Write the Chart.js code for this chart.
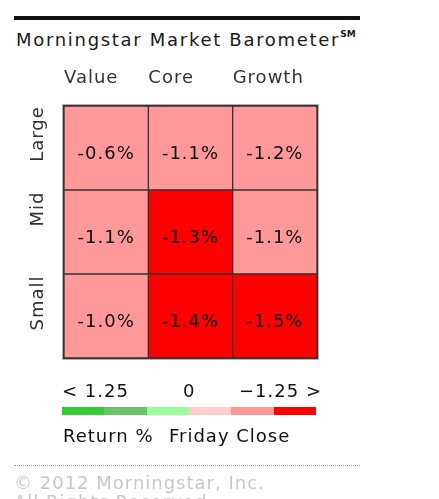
<!DOCTYPE html>
<html>
<head>
<meta charset="utf-8">
<script src="https://cdn.jsdelivr.net/npm/chart.js@4.4.1/dist/chart.umd.min.js"></script>
<style>
  body { margin: 0; background: #fff; width: 439px; height: 499px; overflow: hidden; position: relative;
         font-family: "DejaVu Sans", Verdana, sans-serif; }
  .txt { position: absolute; white-space: nowrap; font-size: 18px; line-height: 20px; letter-spacing: 1px; }
  #topRule { position: absolute; left: 14px; top: 16px; width: 346px; height: 4px; background: #111; }
  #title { left: 16px; top: 24px; color: #1a1a1a; letter-spacing: 1.7px; }
  #title sup { font-size: 9px; font-weight: bold; letter-spacing: 0; vertical-align: 9px; }
  #scaleBar { position: absolute; left: 62px; top: 407px; width: 254px; height: 8px; display: flex; }
  #scaleBar div { flex: 1; }
  #dots { position: absolute; left: 14px; top: 465px; width: 346px; border-top: 1px dotted #aaa; }
  #chart { position: absolute; left: 0; top: 0; }
</style>
</head>
<body>
<div id="topRule"></div>
<div id="title" class="txt">Morningstar Market Barometer<sup>SM</sup></div>
<canvas id="chart" width="439" height="499"></canvas>
<div id="legendTicks"></div>
<div id="scaleBar"></div>
<div class="txt" style="left:63px;top:426px;color:#111;">Return %</div>
<div class="txt" style="left:169px;top:426px;color:#111;">Friday Close</div>
<div id="dots"></div>
<div class="txt" style="left:14px;top:473px;color:#c8c8c8;">© 2012 Morningstar, Inc.</div>
<div class="txt" style="left:14px;top:492px;color:#c8c8c8;">All Rights Reserved.</div>
<script>
// style columns and size rows
const styles = ["Value", "Core", "Growth"];
const sizes = ["Large", "Mid", "Small"];

// Friday close returns (%)
const returnsLarge = [-0.6, -1.1, -1.2];
const returnsMid = [-1.1, -1.3, -1.1];
const returnsSmall = [-1.0, -1.4, -1.5];

// colour scale legend
const legendTicks = ["< 1.25", "0", "\u22121.25 >"];
const legendTickX = [62, 183, 239];
const legendColors = ["#33cc33", "#6cc46c", "#99ff99", "#ffcccc", "#ff9999", "#ff0000"];
const legendBreaks = [1.25, 0.5, 0, -0.5, -1.25];

function colorFor(v) {
  for (let i = 0; i < legendBreaks.length; i++) {
    if (v >= legendBreaks[i]) return legendColors[i];
  }
  return legendColors[legendColors.length - 1];
}

// legend bits
const bar = document.getElementById("scaleBar");
legendColors.forEach((c) => {
  const d = document.createElement("div");
  d.style.background = c;
  bar.appendChild(d);
});
const tickBox = document.getElementById("legendTicks");
legendTicks.forEach((t, i) => {
  const d = document.createElement("div");
  d.className = "txt";
  d.style.left = legendTickX[i] + "px";
  d.style.top = "381px";
  d.style.color = "#111";
  d.textContent = t;
  tickBox.appendChild(d);
});

// stacked from the bottom: Small, Mid, Large
const rows = [
  { name: "Small", values: returnsSmall },
  { name: "Mid", values: returnsMid },
  { name: "Large", values: returnsLarge },
];

const FONT = '18px "DejaVu Sans", Verdana, sans-serif';

const gridLabels = {
  id: "gridLabels",
  afterDatasetsDraw(chart) {
    const ctx = chart.ctx;
    const area = chart.chartArea;
    const xs = chart.scales.x;
    const ys = chart.scales.y;
    ctx.save();
    ctx.font = FONT;
    ctx.letterSpacing = "1px";

    // cell values (sit a little below the middle)
    ctx.fillStyle = "#0a0a0a";
    ctx.textAlign = "center";
    ctx.textBaseline = "middle";
    chart.data.datasets.forEach((ds, di) => {
      const meta = chart.getDatasetMeta(di);
      meta.data.forEach((el, i) => {
        const v = ds.returns[i];
        ctx.fillText(v.toFixed(1) + "%", el.x, (el.y + el.base) / 2 + 6);
      });
    });

    // column headers, left aligned to each column
    const colW = xs.getPixelForValue(1) - xs.getPixelForValue(0);
    ctx.fillStyle = "#333";
    ctx.textAlign = "left";
    styles.forEach((s, i) => {
      ctx.fillText(s, xs.getPixelForValue(i) - colW / 2, 78);
    });

    // row labels, rotated
    const rowOffset = [-14, -23, -13];
    sizes.forEach((s, i) => {
      const yc = ys.getPixelForValue(2.5 - i) + rowOffset[i];
      ctx.save();
      ctx.translate(38, yc);
      ctx.rotate(-Math.PI / 2);
      ctx.textAlign = "center";
      ctx.fillText(s, 0, 0);
      ctx.restore();
    });

    // outer frame
    ctx.lineWidth = 1;
    ctx.strokeStyle = "#333";
    ctx.strokeRect(area.left - 0.5, area.top - 0.5, area.width + 1, area.height + 1);
    ctx.strokeStyle = "#b0b0b0";
    ctx.strokeRect(area.left - 1.5, area.top - 1.5, area.width + 3, area.height + 3);
    ctx.restore();
  },
};

new Chart(document.getElementById("chart"), {
  type: "bar",
  data: {
    labels: styles,
    datasets: rows.map((r) => ({
      label: r.name,
      data: styles.map(() => 1),
      returns: r.values,
      backgroundColor: r.values.map(colorFor),
      borderColor: "#333",
      borderWidth: 1,
      borderSkipped: false,
      barPercentage: 1,
      categoryPercentage: 1,
    })),
  },
  options: {
    responsive: false,
    animation: false,
    layout: { padding: { left: 64, top: 106, right: 122, bottom: 141 } },
    scales: {
      x: { stacked: true, display: false },
      y: { stacked: true, display: false, min: 0, max: 3 },
    },
    plugins: { legend: { display: false }, tooltip: { enabled: false } },
  },
  plugins: [gridLabels],
});
</script>
</body>
</html>
